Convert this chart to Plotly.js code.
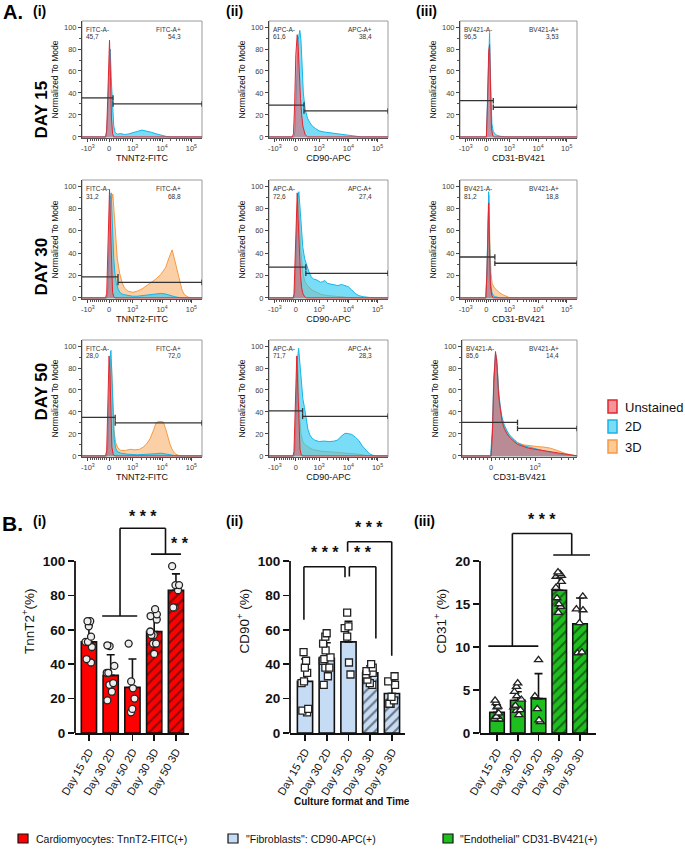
<!DOCTYPE html>
<html><head><meta charset="utf-8">
<script src="https://cdn.plot.ly/plotly-3.0.1.min.js"></script>
<style>html,body{margin:0;padding:0;background:#fff}#chart{width:685px;height:852px}</style>
</head><body><div id="chart"></div>
<script>
// ---------------- DATA ----------------
// Part A: flow histograms, x in biexponential display units (0 -> 0, 10^3 -> 1), y = % of mode
const d15_tnnt2_unst = [[-1.15,0],[-0.15,0],[-0.1,6],[-0.05,35],[0,80],[0.02,88],[0.06,55],[0.1,18],[0.15,3],[0.2,0],[3.95,0]];
const d15_tnnt2_2d = [[-1.15,0],[-0.12,0],[-0.06,20],[0,65],[0.05,80],[0.1,50],[0.15,28],[0.2,10],[0.26,4],[0.35,2.5],[0.5,3],[0.65,2.2],[0.8,2.5],[1.0,3.5],[1.2,5],[1.4,6.2],[1.6,5.5],[1.8,4.2],[2.0,2.8],[2.2,1.5],[2.4,0.6],[2.6,0],[3.95,0]];
const d15_cd90_unst = [[-1.15,0],[-0.15,0],[-0.1,3],[-0.05,30],[0,75],[0.06,93],[0.1,82],[0.15,55],[0.2,35],[0.25,20],[0.3,10],[0.4,2],[0.5,0],[3.95,0]];
const d15_cd90_2d = [[-1.15,0],[-0.08,0],[-0.04,5],[0,35],[0.05,72],[0.1,88],[0.17,97],[0.22,88],[0.27,65],[0.32,40],[0.4,25],[0.5,17],[0.6,13],[0.7,10],[0.85,7.5],[1.0,5.5],[1.2,4.5],[1.4,4],[1.6,3.5],[1.8,3],[2.0,2.5],[2.2,2],[2.4,1],[2.6,0.5],[2.8,0],[3.95,0]];
const d15_cd31_unst = [[-1.15,0],[0,0],[0.05,30],[0.1,78],[0.14,84],[0.18,40],[0.22,8],[0.28,1],[0.35,0],[3.95,0]];
const d15_cd31_2d = [[-1.15,0],[0,0],[0.05,35],[0.1,85],[0.14,95],[0.19,45],[0.24,12],[0.3,5],[0.4,2],[0.55,0.8],[0.8,0],[3.95,0]];

const d30_tnnt2_unst = [[-1.15,0],[-0.15,0],[-0.1,4],[-0.05,40],[0,90],[0.02,97],[0.06,65],[0.1,25],[0.15,5],[0.2,1],[0.25,0],[3.95,0]];
const d30_tnnt2_2d = [[-1.15,0],[-0.1,0],[-0.05,8],[0,55],[0.05,88],[0.09,94],[0.14,62],[0.2,35],[0.25,22],[0.3,14],[0.4,7],[0.5,4],[0.6,3],[0.8,2],[1.0,1.5],[1.2,1.5],[1.4,2],[1.6,2.5],[1.8,3],[2.0,3.5],[2.2,4],[2.4,3.5],[2.6,2],[2.8,1],[3.0,0.3],[3.2,0],[3.95,0]];
const d30_tnnt2_3d = [[-1.15,0],[-0.08,0],[-0.03,10],[0.03,55],[0.08,85],[0.16,93],[0.22,75],[0.28,52],[0.35,35],[0.45,22],[0.55,14],[0.65,9],[0.8,6],[1.0,5],[1.2,6],[1.4,8],[1.6,11],[1.8,14],[2.0,17],[2.2,21],[2.4,27],[2.55,36],[2.68,43],[2.8,33],[2.9,24],[3.0,14],[3.1,7],[3.2,3],[3.35,0.8],[3.5,0],[3.95,0]];
const d30_cd90_unst = [[-1.15,0],[-0.12,0],[-0.08,3],[-0.03,35],[0.02,80],[0.06,94],[0.1,70],[0.15,40],[0.2,20],[0.25,9],[0.3,4],[0.38,1],[0.45,0],[3.95,0]];
const d30_cd90_2d = [[-1.15,0],[-0.08,0],[-0.03,8],[0.02,50],[0.08,88],[0.13,95],[0.18,80],[0.24,58],[0.3,45],[0.38,35],[0.45,30],[0.55,24],[0.65,19],[0.75,17],[0.9,16],[1.05,14],[1.15,14.5],[1.25,15.5],[1.35,13],[1.5,12.5],[1.65,12],[1.8,11],[1.95,12],[2.1,11],[2.25,10],[2.4,7],[2.55,4],[2.7,2],[2.9,1],[3.2,0.3],[3.4,0],[3.95,0]];
const d30_cd90_3d = [[-1.15,0],[-0.08,0],[-0.03,10],[0.03,60],[0.08,92],[0.14,75],[0.2,45],[0.3,22],[0.4,14],[0.5,11],[0.7,7],[0.9,5],[1.1,3],[1.4,2],[1.8,1],[2.2,0.5],[2.6,0],[3.95,0]];
const d30_cd31_unst = [[-1.15,0],[-0.02,0],[0.03,25],[0.07,80],[0.1,85],[0.14,40],[0.18,10],[0.24,2],[0.3,0],[3.95,0]];
const d30_cd31_2d = [[-1.15,0],[-0.02,0],[0.03,30],[0.07,85],[0.1,95],[0.14,50],[0.18,15],[0.24,5],[0.3,2],[0.4,1],[0.6,0],[3.95,0]];
const d30_cd31_3d = [[-1.15,0],[-0.02,0],[0.03,28],[0.07,82],[0.11,92],[0.15,50],[0.2,22],[0.25,13],[0.35,9],[0.45,7],[0.55,5],[0.7,3],[0.85,1.5],[1.0,0.3],[1.1,0],[3.95,0]];

const d50_tnnt2_unst = [[-1.15,0],[-0.15,0],[-0.1,5],[-0.05,40],[0,91],[0.04,75],[0.08,35],[0.12,8],[0.18,1],[0.25,0],[3.95,0]];
const d50_tnnt2_2d = [[-1.15,0],[-0.1,0],[-0.05,10],[0,60],[0.05,90],[0.08,96],[0.12,70],[0.17,35],[0.22,15],[0.28,7],[0.35,4],[0.5,2.5],[0.8,1.5],[1.2,1],[1.6,1.3],[2.0,2],[2.2,2.5],[2.4,2],[2.6,1],[2.8,0.3],[3.0,0],[3.95,0]];
const d50_tnnt2_3d = [[-1.15,0],[-0.1,0],[-0.05,10],[0,55],[0.05,88],[0.1,85],[0.15,50],[0.2,25],[0.28,12],[0.38,7],[0.5,5],[0.7,5],[0.9,6],[1.1,5.5],[1.3,6],[1.45,8],[1.6,11],[1.75,16],[1.9,24],[2.0,30],[2.1,31.5],[2.2,31],[2.3,31],[2.4,25],[2.5,17],[2.6,10],[2.7,5],[2.8,2],[2.95,0.5],[3.1,0],[3.95,0]];
const d50_cd90_unst = [[-1.15,0],[-0.12,0],[-0.08,4],[-0.03,40],[0.02,85],[0.04,91],[0.08,65],[0.13,25],[0.18,6],[0.23,1],[0.3,0],[3.95,0]];
const d50_cd90_2d = [[-1.15,0],[-0.08,0],[-0.03,8],[0.03,55],[0.08,90],[0.12,98],[0.17,85],[0.23,65],[0.3,52],[0.37,44],[0.45,32],[0.52,24],[0.6,19],[0.7,16],[0.8,14.5],[1.0,13],[1.2,13.5],[1.45,13],[1.65,13.5],[1.8,14.5],[1.9,17],[2.0,19],[2.1,20.5],[2.2,20.5],[2.3,20],[2.4,19.5],[2.55,17],[2.7,14],[2.85,9],[3.0,5],[3.15,2],[3.3,0.5],[3.45,0],[3.95,0]];
const d50_cd90_3d = [[-1.15,0],[-0.08,0],[-0.03,10],[0.02,60],[0.06,90],[0.1,75],[0.15,40],[0.22,20],[0.3,13],[0.4,10],[0.55,8],[0.7,6],[0.9,5],[1.2,4],[1.6,3.5],[2.0,3],[2.4,2.5],[2.7,1.5],[3.0,0.5],[3.2,0],[3.95,0]];
const d50_cd31_unst = [[-0.66,0],[0.0,0],[0.03,20],[0.06,65],[0.1,95],[0.13,85],[0.17,55],[0.21,40],[0.25,31],[0.3,25],[0.36,20],[0.42,17],[0.48,14.5],[0.6,10.5],[0.72,8.5],[0.85,7],[1.0,6],[1.15,5],[1.3,4],[1.5,2.5],[1.7,1],[1.95,0]];
const d50_cd31_2d = [[-0.66,0],[-0.01,0],[0.03,25],[0.06,70],[0.1,93],[0.13,88],[0.17,60],[0.21,44],[0.25,35],[0.3,28],[0.36,23],[0.42,19],[0.48,16.5],[0.6,12],[0.72,9.5],[0.85,8],[1.0,6.5],[1.15,5],[1.3,3.5],[1.5,2],[1.7,0.8],[1.95,0]];
const d50_cd31_3d = [[-0.66,0],[0.0,0],[0.04,25],[0.07,65],[0.1,88],[0.14,80],[0.18,52],[0.22,38],[0.27,30],[0.33,24],[0.4,19],[0.48,15.5],[0.6,12],[0.75,10],[0.9,9],[1.05,8.5],[1.2,8],[1.35,7],[1.5,5],[1.7,2],[1.95,0]];

const dayLabels = ['DAY 15','DAY 30','DAY 50'];
const channelNames = ['TNNT2-FITC','CD90-APC','CD31-BV421'];
const gateNames = ['FITC-A','APC-A','BV421-A'];
const pctNeg = [[45.7,61.6,96.5],[31.2,72.6,81.2],[28.0,71.7,85.6]];
const pctPos = [[54.3,38.4,3.53],[68.8,27.4,18.8],[72.0,28.3,14.4]];
const gateSplit = [[0.17,0.35,0.3],[0.38,0.43,0.37],[0.26,0.29,0.6]];
const gateLeftY = [[35.5,29,33],[18.8,27.5,36.6],[35,41,30.5]];
const gateRightY = [[30,23.6,27],[13.9,22,31],[30,36,25]];
const seriesNames = ['Unstained','2D','3D'];

// Part B: bar charts (mean, SD) + individual replicates
const groups = ['Day 15 2D','Day 30 2D','Day 50 2D','Day 30 3D','Day 50 3D'];
const tnnt2Mean = [53, 33.5, 26.5, 59, 83];
const tnnt2SD = [9.5, 12, 16.5, 10, 9.5];
const tnnt2Pts = [[65,65,62,56,53,53,50,43,41],[51,50.5,39,35,35,29,28,24,19],[52,30,26,20,14,12],[72,69,68,66,59,57,57,52,52,46],[97,86,86,83,73,73]];
const cd90Mean = [30, 43.5, 53, 35, 23];
const cd90SD = [13, 9, 12, 4, 7];
const cd90Pts = [[47,42,38,35,30,29,14,13,12],[58,56,52,48,44,43,42,38,38,33,28],[70,62,61,56,41,34],[40,38,36,35,34,31,29,28],[33,30,28,21,19,17,17]];
const cd31Mean = [2.4, 3.8, 4.0, 16.6, 12.7];
const cd31SD = [0.8, 1.0, 2.9, 1.5, 3.0];
const cd31Pts = [[3.8,3.5,3.1,3.0,2.3,1.9,1.7,1.6,1.6,1.6],[5.8,5.4,4.8,4.3,3.9,3.2,3.0,2.7,2.6,2.1],[8.5,4.3,2.8,1.5,1.3],[18.7,18.5,18.3,18.2,17.6,16.9,15.7,15.0,14.7,14.0],[15.9,14.4,14.3,12.8,9.3,9.4]];
const legendB = ['Cardiomyocytes: TnnT2-FITC(+)','"Fibroblasts": CD90-APC(+)','"Endothelial" CD31-BV421(+)'];

// ---------------- BUILD ----------------
const F = 'Arial, "Liberation Sans", sans-serif';
const W = 685, H = 852;
const PX = v => v / W, PY = v => 1 - v / H;

const curveSets = [
  [[d15_tnnt2_unst,d15_tnnt2_2d,null],[d15_cd90_unst,d15_cd90_2d,null],[d15_cd31_unst,d15_cd31_2d,null]],
  [[d30_tnnt2_unst,d30_tnnt2_2d,d30_tnnt2_3d],[d30_cd90_unst,d30_cd90_2d,d30_cd90_3d],[d30_cd31_unst,d30_cd31_2d,d30_cd31_3d]],
  [[d50_tnnt2_unst,d50_tnnt2_2d,d50_tnnt2_3d],[d50_cd90_unst,d50_cd90_2d,d50_cd90_3d],[d50_cd31_unst,d50_cd31_2d,d50_cd31_3d]]
];
const sty = [
  {line:'#e3262e', fill:'rgba(236,88,96,0.55)', sw:'rgba(242,130,135,0.85)'},
  {line:'#17b4e8', fill:'rgba(40,200,242,0.62)', sw:'rgba(110,215,245,0.9)'},
  {line:'#f59a42', fill:'rgba(250,170,95,0.55)', sw:'rgba(252,195,140,0.9)'}
];

function biex(v){ const a=Math.abs(v); const t = a<=1000 ? a/1000 : 1+1.25*Math.log10(a/1000); return v<0 ? -0.9*t : t; }
const majorVals = [-1000,0,1000,10000,100000];
const majorText = ['-10<sup>3</sup>','0','10<sup>3</sup>','10<sup>4</sup>','10<sup>5</sup>'];
const minorVals = [];
for (let k=1;k<=9;k++){ minorVals.push(-k*100, k*100); }
for (let k=2;k<=9;k++){ minorVals.push(k*1000, k*10000); }

const colX = [[82,202],[269,388],[460,577]];
const rowY = [[21,138],[180,299],[340,457]];
const data = [];
const layout = {width:W, height:H, margin:{l:0,r:0,t:0,b:0}, showlegend:false,
  paper_bgcolor:'#fff', plot_bgcolor:'rgba(0,0,0,0)', font:{family:F, color:'#111'},
  shapes:[], annotations:[]};
const posRight = [0.84, 0.885, 0.86];
const fmt = v => v.toPrecision(3).replace('.', ',');

for (let r=0;r<3;r++){
  for (let c=0;c<3;c++){
    const n = r*3+c+1, s = n===1?'':String(n);
    const xr = (r===2&&c===2) ? [-0.66,1.95] : [-1.15,3.95];
    const cx = (r===2&&c===2) ? [462,577] : colX[c];
    const sets = curveSets[r][c];
    [2,1,0].forEach(k=>{
      const pts = sets[k]; if(!pts) return;
      data.push({type:'scatter', mode:'lines', x:pts.map(p=>p[0]), y:pts.map(p=>p[1]),
        xaxis:'x'+s, yaxis:'y'+s, fill:'tozeroy', fillcolor:sty[k].fill,
        line:{color:sty[k].line, width:1}, hoverinfo:'skip', name:seriesNames[k]});
    });
    layout['xaxis'+s] = {domain:[PX(cx[0]),PX(cx[1])], range:xr, anchor:'y'+s,
      tickmode:'array', tickvals:majorVals.map(biex), ticktext:majorText,
      ticks:'outside', ticklen:3, tickcolor:'#444', tickfont:{size:7.5, color:'#444'},
      minor:{tickmode:'array', tickvals:minorVals.map(biex), ticks:'outside', ticklen:2, tickcolor:'#555'},
      showline:true, linecolor:'#555', linewidth:1, showgrid:false, zeroline:false,
      title:{text:channelNames[c], font:{size:9, color:'#111'}, standoff:2}};
    layout['yaxis'+s] = {domain:[PY(rowY[r][1]),PY(rowY[r][0])], range:[-1,105.5], anchor:'x'+s,
      tickmode:'array', tickvals:[0,20,40,60,80,100], ticks:'outside', ticklen:3, tickcolor:'#444',
      tickfont:{size:7.5, color:'#444'},
      minor:{tickmode:'array', tickvals:[10,30,50,70,90], ticks:'outside', ticklen:2, tickcolor:'#555'},
      showline:true, linecolor:'#444', linewidth:1, showgrid:false, zeroline:false,
      title:{text:'Normalized To Mode', font:{size:8.5, color:'#111'}, standoff:4}};
    layout.shapes.push({type:'rect', xref:'x'+s+' domain', yref:'y'+s+' domain', x0:0,x1:1,y0:0,y1:1,
      line:{color:'#9a9a9a', width:1}, layer:'below'});
    const gs = gateSplit[r][c], yl = gateLeftY[r][c], yrr = gateRightY[r][c];
    const gl = {color:'#333', width:1.3};
    const seg = (x0,y0,x1,y1)=>layout.shapes.push({type:'line', xref:'x'+s, yref:'y'+s, x0,y0,x1,y1, line:gl});
    seg(xr[0], yl, gs, yl); seg(gs, yl-2.5, gs, yl+2.5);
    seg(gs, yrr, xr[1], yrr); seg(gs, yrr-2.5, gs, yrr+2.5); seg(xr[1], yrr-2.5, xr[1], yrr+2.5);
    const ann = (x,y,t,xa)=>layout.annotations.push({xref:'x'+s+' domain', yref:'y'+s+' domain', x, y, text:t,
      showarrow:false, xanchor:xa, yanchor:'middle', font:{size:6.5, color:'#333'}});
    ann(0.02, 0.93, gateNames[c]+'-', 'left'); ann(0.02, 0.865, fmt(pctNeg[r][c]), 'left');
    ann(posRight[c], 0.93, gateNames[c]+'+', 'right'); ann(posRight[c], 0.865, fmt(pctPos[r][c]), 'right');
  }
  layout.annotations.push({xref:'paper', yref:'paper', x:PX(29), y:PY([79,236,392][r]), text:dayLabels[r],
    textangle:-90, showarrow:false, font:{size:17, color:'#000', weight:700}});
}
const hdr = (x,y,t,sz)=>layout.annotations.push({xref:'paper', yref:'paper', x:PX(x), y:PY(y), text:t, showarrow:false,
  xanchor:'left', yanchor:'middle', font:{size:sz, color:'#000', weight:700}});
hdr(1,12,'A.',20); hdr(31,11,'(i)',14); hdr(224,11,'(ii)',14); hdr(414,11,'(iii)',14);
hdr(0,523,'B.',21); hdr(31,521,'(i)',14); hdr(224,521,'(ii)',14); hdr(412,521,'(iii)',14);

[[400,407],[420,427],[440,447]].forEach((p,k)=>{
  layout.shapes.push({type:'rect', xref:'paper', yref:'paper', x0:PX(608), x1:PX(617), y0:PY(p[0]), y1:PY(p[0]+13),
    fillcolor:sty[k].sw, line:{color:sty[k].line, width:1.5}});
  layout.annotations.push({xref:'paper', yref:'paper', x:PX(623), y:PY(p[1]), text:seriesNames[k], showarrow:false,
    xanchor:'left', yanchor:'middle', font:{size:13, color:'#111'}});
});

const bCharts = [
  {n:10, mean:tnnt2Mean, sd:tnnt2SD, pts:tnnt2Pts, color:'#ff0000', sym:'circle', mfill:'#eeeeee', title:'TnnT2<sup>+</sup>(%)',
   yr:[0,130], yt:[0,20,40,60,80,100], ytop:100, xr:[-0.64,4.6], dom:[75,189],
   lines:[[0.61,68,2.22,68],[1.43,68,1.43,119],[1.43,119,3.52,119],[3.52,119,3.52,104],[2.85,104,4.23,104]],
   stars:[[2.48,120,'* * *','bottom'],[4.18,110,'* *','middle']]},
  {n:11, mean:cd90Mean, sd:cd90SD, pts:cd90Pts, color:'#c6dcf5', sym:'square', mfill:'#ffffff', title:'CD90<sup>+</sup> (%)',
   yr:[0,130], yt:[0,20,40,60,80,100], ytop:100, xr:[-0.69,4.6], dom:[290,405],
   lines:[[-0.05,65.8,-0.05,96.7],[-0.05,96.7,1.84,96.7],[1.84,96.7,1.84,90.5],
          [2.04,91,2.04,96.7],[2.04,96.7,3.26,96.7],[3.26,96.7,3.26,55],
          [1.96,105.4,1.96,111.2],[1.96,111.2,3.99,111.2],[3.99,111.2,3.99,44.9]],
   stars:[[0.92,99,'* * *','bottom'],[2.65,99,'* *','bottom'],[2.96,113.5,'* * *','bottom']]},
  {n:12, mean:cd31Mean, sd:cd31SD, pts:cd31Pts, color:'#1fbe1f', sym:'triangle-up', mfill:'#ffffff', title:'CD31<sup>+</sup> (%)',
   yr:[0,26], yt:[0,5,10,15,20], ytop:20, xr:[-0.82,4.77], dom:[480,596],
   lines:[[-0.42,10.1,1.99,10.1],[0.74,10.1,0.74,23.2],[0.74,23.2,3.6,23.2],[3.6,23.2,3.6,20.7],[2.71,20.7,4.48,20.7]],
   stars:[[2.15,23.6,'* * *','bottom']]}
];
bCharts.forEach(b=>{
  const s = String(b.n), xs = groups.map((g,i)=>i);
  data.push({type:'bar', x:xs, y:b.mean, xaxis:'x'+s, yaxis:'y'+s, width:0.7, hoverinfo:'skip',
    marker:{color:b.color, line:{color:'#111', width:1.6},
      pattern:{shape:['','','','/','/'], fgcolor:'#111', size:7, solidity:0.32, fillmode:'overlay'}},
    error_y:{type:'data', symmetric:false, array:b.sd, arrayminus:b.sd.map(()=>0), color:'#111', thickness:1.6, width:4}});
  data.push({type:'box', x:b.pts.flatMap((a,i)=>a.map(()=>i)), y:b.pts.flat(), xaxis:'x'+s, yaxis:'y'+s,
    boxpoints:'all', jitter:0.85, pointpos:0, fillcolor:'rgba(0,0,0,0)', line:{width:0, color:'rgba(0,0,0,0)'},
    whiskerwidth:0, hoverinfo:'skip',
    marker:{symbol:b.sym, size:7, color:b.mfill, line:{color:'#222', width:1.3}}});
  layout['xaxis'+s] = {domain:[PX(b.dom[0]),PX(b.dom[1])], range:b.xr, anchor:'y'+s,
    tickmode:'array', tickvals:xs, ticktext:groups, tickangle:-60,
    ticks:'outside', ticklen:6, tickwidth:1.6, tickcolor:'#111', tickfont:{size:11, color:'#111'},
    showline:true, linecolor:'#111', linewidth:1.8, showgrid:false, zeroline:false};
  layout['yaxis'+s] = {domain:[PY(733),PY(509.4)], range:b.yr, anchor:'x'+s,
    tickmode:'array', tickvals:b.yt, ticks:'outside', ticklen:6, tickwidth:1.6, tickcolor:'#111',
    tickfont:{size:13.5, color:'#111', weight:700}, showline:false, showgrid:false, zeroline:false,
    title:{text:b.title, font:{size:13.5, color:'#111'}, standoff:5}};
  layout.shapes.push({type:'line', xref:'x'+s+' domain', yref:'y'+s, x0:0, x1:0, y0:0, y1:b.ytop,
    line:{color:'#111', width:1.8}});
  b.lines.forEach(L=>layout.shapes.push({type:'line', xref:'x'+s, yref:'y'+s, x0:L[0], y0:L[1], x1:L[2], y1:L[3],
    line:{color:'#111', width:1.6}}));
  b.stars.forEach(S=>layout.annotations.push({xref:'x'+s, yref:'y'+s, x:S[0], y:S[1], text:S[2], showarrow:false,
    xanchor:'center', yanchor:S[3], font:{size:16, color:'#111', weight:700}}));
});
layout.annotations.push({xref:'paper', yref:'paper', x:PX(352), y:PY(809), text:'Culture format and Time',
  showarrow:false, font:{size:10, color:'#111', weight:700}});
[[18,'#ff0000',34],[228,'#c6dcf5',244],[443,'#1fbe1f',458]].forEach((p,k)=>{
  layout.shapes.push({type:'rect', xref:'paper', yref:'paper', x0:PX(p[0]), x1:PX(p[0]+10), y0:PY(843), y1:PY(834),
    fillcolor:p[1], line:{color:'#111', width:1.2}});
  layout.annotations.push({xref:'paper', yref:'paper', x:PX(p[2]), y:PY(838.5), text:legendB[k], showarrow:false,
    xanchor:'left', yanchor:'middle', font:{size:10.5, color:'#111'}});
});

Plotly.newPlot('chart', data, layout, {staticPlot:true, displayModeBar:false});
</script></body></html>
